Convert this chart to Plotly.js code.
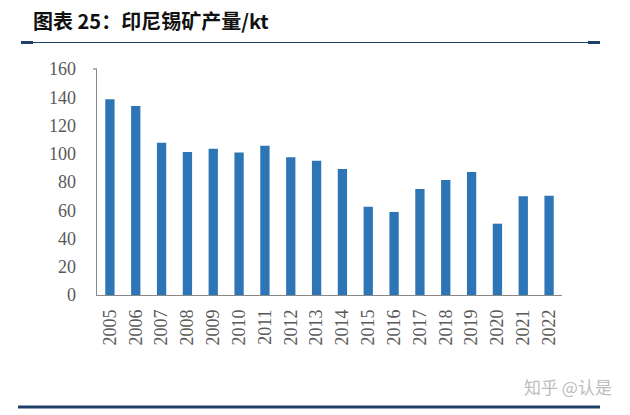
<!DOCTYPE html>
<html><head><meta charset="utf-8">
<script src="https://cdn.plot.ly/plotly-3.0.1.min.js"></script>
<style>html,body{margin:0;padding:0;background:#fff;}#chart{width:630px;height:415px;}</style>
</head><body><div id="chart"></div>
<script>
const years = ["2005","2006","2007","2008","2009","2010","2011","2012","2013","2014","2015","2016","2017","2018","2019","2020","2021","2022"];
const production = [138.5,133.8,107.8,101.2,103.6,100.8,105.7,97.5,95.1,89.2,62.5,58.8,75,81.4,87.1,50.5,69.9,70.3];
const yTicks = [0,20,40,60,80,100,120,140,160];
const titleText = "图表 25：印尼锡矿产量/kt";
const watermark = "知乎 @认是";

const W = 630, H = 415, L = 97, R = 68, T = 69, B = 120;
const pw = W - L - R, ph = H - T - B;
const px = x => (x - L) / pw;
const py = y => (H - B - y) / ph;
const lineCol = "#1F3F66";

const layout = {
  width: W, height: H,
  margin: {l: L, r: R, t: T, b: B, pad: 0},
  paper_bgcolor: "#fff", plot_bgcolor: "#fff",
  showlegend: false,
  bargap: 0.64,
  xaxis: {
    type: "category", tickangle: -90, showline: true, linecolor: "#888", linewidth: 1.3,
    ticks: "", showgrid: false, zeroline: false,
    tickfont: {family: "Liberation Serif", size: 18, color: "#595959"},
    ticklabelstandoff: 6, fixedrange: true
  },
  yaxis: {
    range: [0, 160], tickvals: yTicks, showline: true, linecolor: "#888", linewidth: 1.3,
    ticks: "", showgrid: false, zeroline: false,
    tickfont: {family: "Liberation Serif", size: 18, color: "#595959"},
    ticklabelstandoff: 16, fixedrange: true
  },
  shapes: [
    {type: "line", xref: "paper", yref: "paper", x0: px(21), x1: px(600), y0: py(42.5), y1: py(42.5), line: {color: lineCol, width: 1.2}},
    {type: "line", xref: "paper", yref: "paper", x0: px(21), x1: px(33), y0: py(42.5), y1: py(42.5), line: {color: lineCol, width: 3}},
    {type: "line", xref: "paper", yref: "paper", x0: px(588), x1: px(600), y0: py(42.5), y1: py(42.5), line: {color: lineCol, width: 3}},
    {type: "line", xref: "paper", yref: "paper", x0: px(18), x1: px(600), y0: py(407), y1: py(407), line: {color: lineCol, width: 3}},
    {type: "line", xref: "paper", yref: "paper", x0: px(93), x1: px(97), y0: 1, y1: 1, line: {color: "#888", width: 1.3}}
  ],
  annotations: [
    {text: "<b>" + titleText + "</b>", xref: "paper", yref: "paper", x: px(31), y: py(20), xanchor: "left", yanchor: "middle",
     showarrow: false, font: {family: "Noto Sans CJK SC", size: 20, color: "#111"}},
    {text: watermark, xref: "paper", yref: "paper", x: px(614), y: py(386), xanchor: "right", yanchor: "middle",
     showarrow: false, font: {family: "Noto Sans CJK SC", size: 17, color: "#bcbcbc"}}
  ]
};

Plotly.newPlot("chart", [{
  type: "bar", x: years, y: production, marker: {color: "#2E75B6"}, hoverinfo: "x+y"
}], layout, {displayModeBar: false, staticPlot: true});
</script>
</body></html>
